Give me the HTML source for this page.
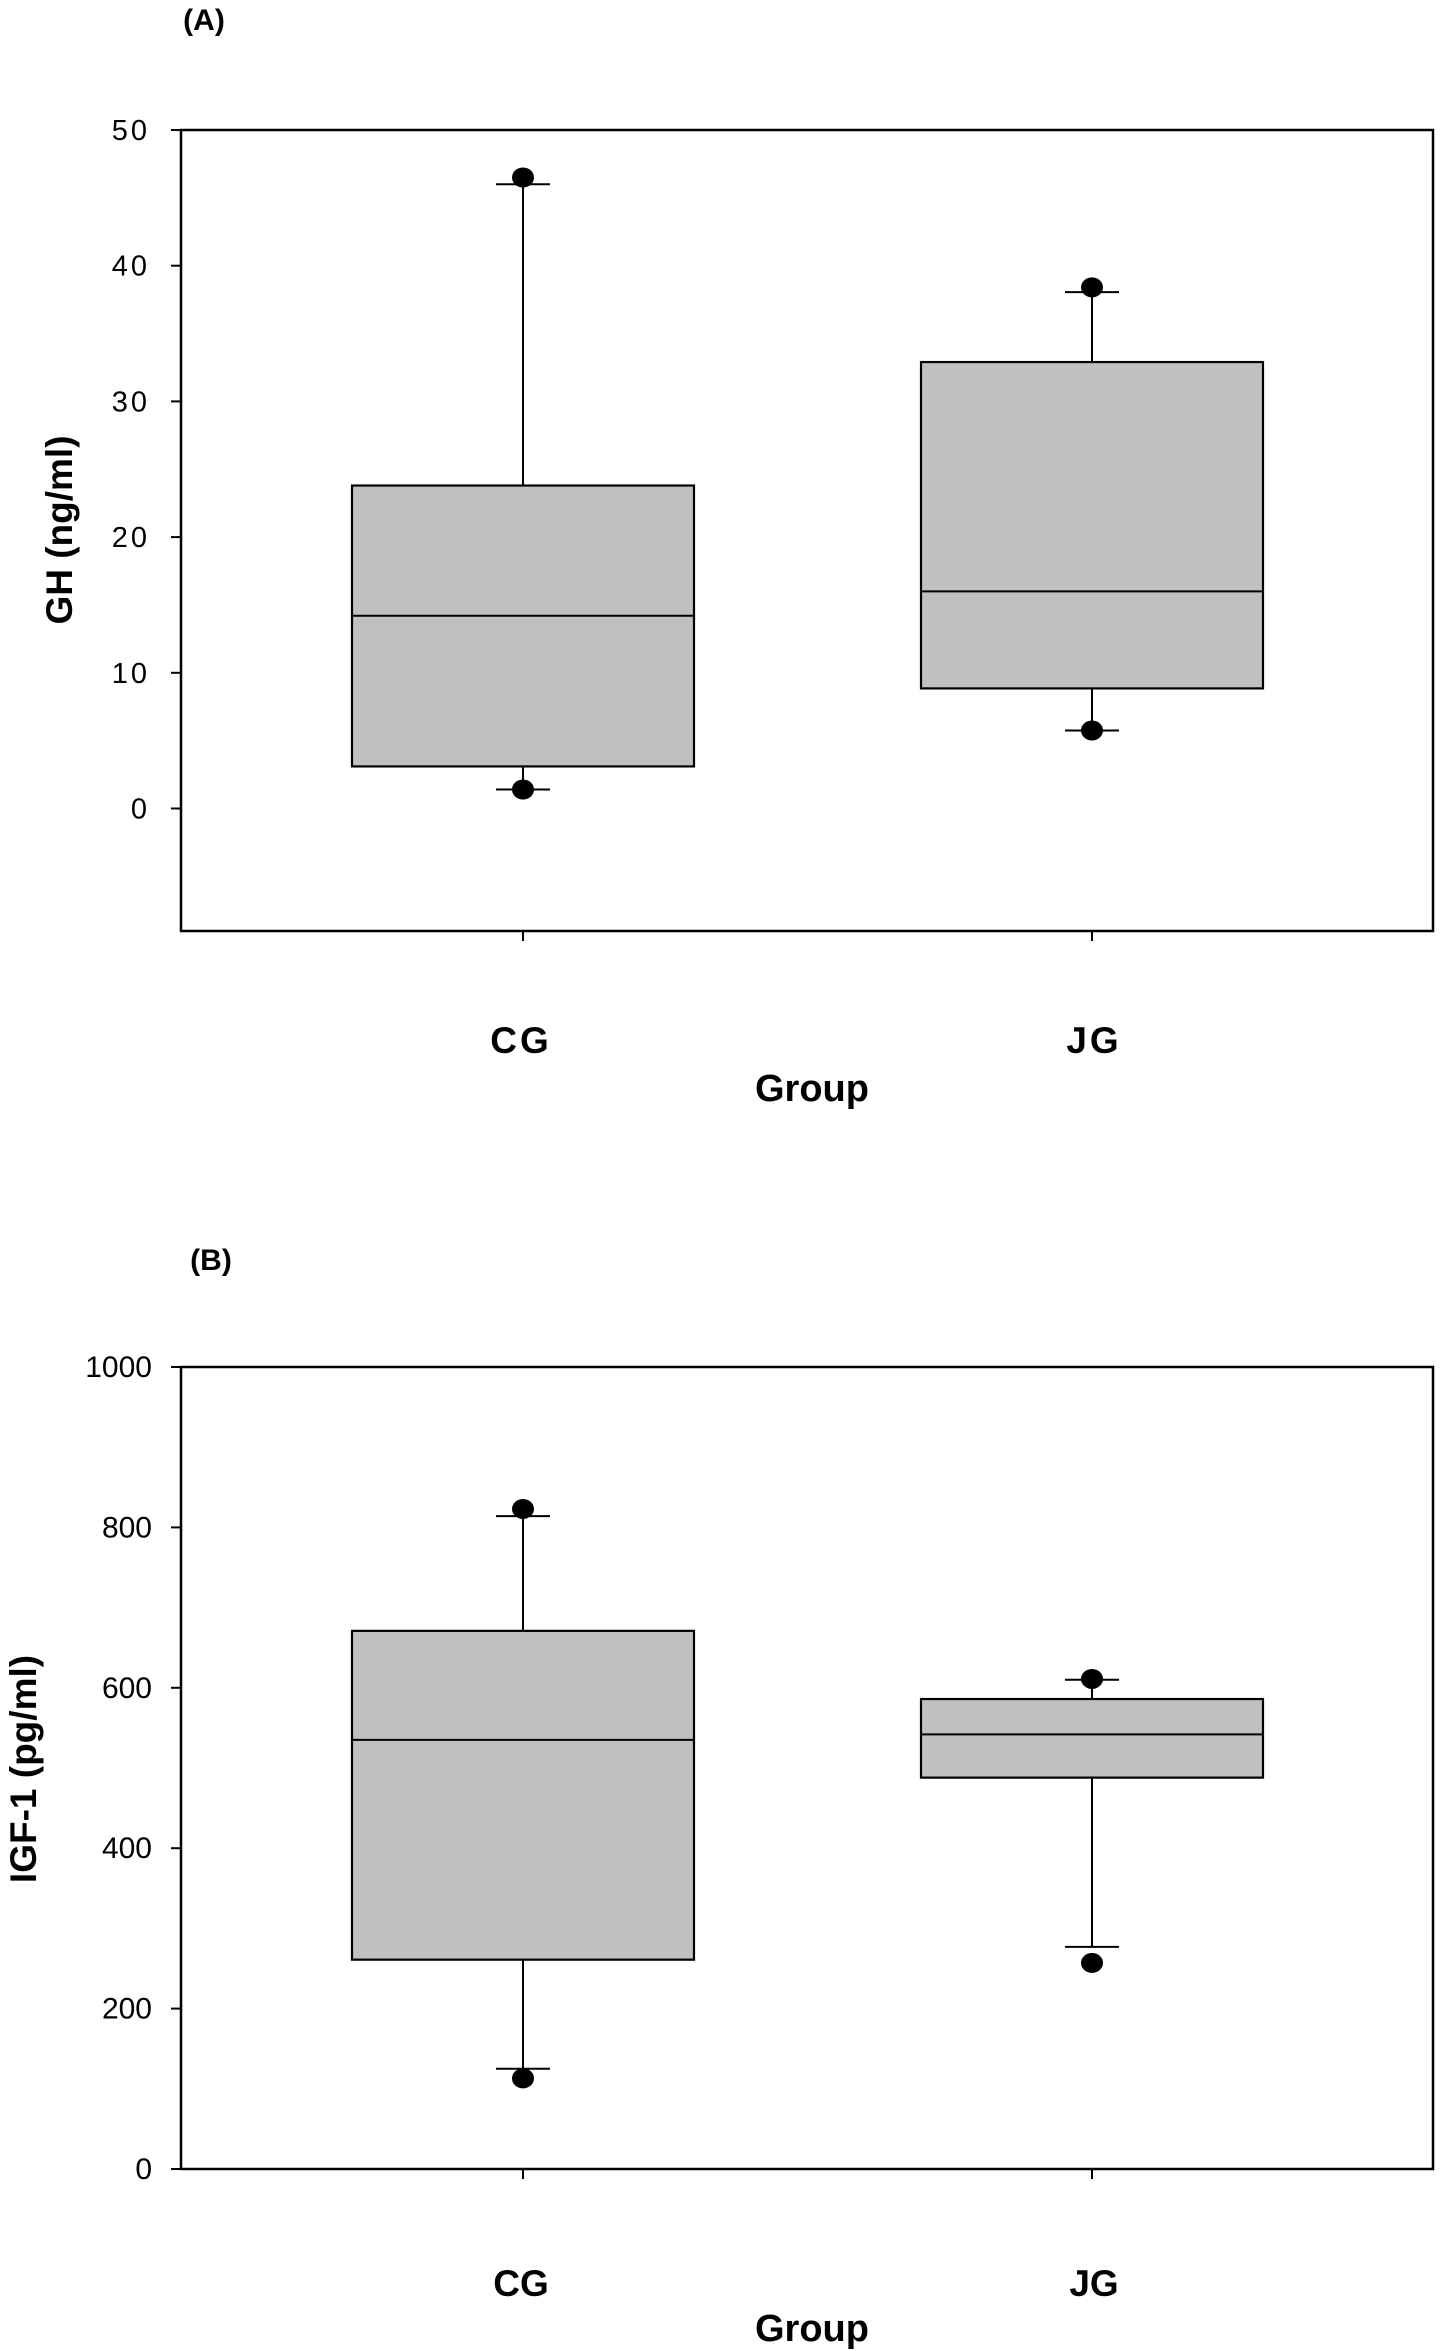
<!DOCTYPE html>
<html><head><meta charset="utf-8"><style>
body{margin:0;background:#fff;}
svg{display:block;font-family:"Liberation Sans",Arial,sans-serif;}
</style></head><body>
<svg id="fig" width="1441" height="2351" viewBox="0 0 1441 2351" xmlns="http://www.w3.org/2000/svg"></svg>
<script>
// Panel A data (GH ng/ml)
const categories = ["CG", "JG"];
const ghLowOut = [1.4, 5.75];
const ghLowWhisk = [1.4, 5.75];
const ghQ1 = [3.1, 8.85];
const ghMedian = [14.2, 16.0];
const ghQ3 = [23.8, 32.9];
const ghHighWhisk = [46.0, 38.05];
const ghHighOut = [46.5, 38.4];
const ghTicks = [0, 10, 20, 30, 40, 50];
// Panel B data (IGF-1 pg/ml)
const igfLowOut = [113, 257];
const igfLowWhisk = [125, 277];
const igfQ1 = [261, 488];
const igfMedian = [535, 542];
const igfQ3 = [671, 586];
const igfHighWhisk = [814, 610];
const igfHighOut = [823, 611];
const igfTicks = [0, 200, 400, 600, 800, 1000];

const NS = "http://www.w3.org/2000/svg";
const svg = document.getElementById("fig");
function mk(tag, attrs, parent, name) {
  const e = document.createElementNS(NS, tag);
  for (const k in attrs) e.setAttribute(k, attrs[k]);
  
  
  (parent || svg).appendChild(e);
  return e;
}

function panel(opt) {
  const g = mk("g", {}, svg, opt.name);
  const L = 181, R = 1433, T = opt.top, B = opt.bottom;
  const y = v => opt.y0px + (v - opt.vmin) * (opt.y1px - opt.y0px) / (opt.vmax - opt.vmin);
  const xc = [523, 1092];
  const halfBox = 171, cap = 27;
  mk("rect", {x: L, y: T, width: R - L, height: B - T, fill: "none", stroke: "#000", "stroke-width": 2.5}, g, "plot-frame");
  opt.ticks.forEach(t => {
    mk("line", {x1: L - 10, x2: L, y1: y(t), y2: y(t), stroke: "#000", "stroke-width": 2}, g, "y-tick");
    const tx = mk("text", {x: opt.tickX, y: y(t) + 10, "text-anchor": "end", "font-size": opt.tickFs, fill: "#000", "letter-spacing": opt.ls}, g, "y-tick-label");
    tx.textContent = t;
  });
  categories.forEach((c, i) => {
    const x = xc[i];
    mk("line", {x1: x, x2: x, y1: B, y2: B + 10, stroke: "#000", "stroke-width": 2}, g, "x-tick");
    mk("line", {x1: x, x2: x, y1: y(opt.hw[i]), y2: y(opt.q3[i]), stroke: "#000", "stroke-width": 2}, g, "upper-whisker-" + c);
    mk("line", {x1: x, x2: x, y1: y(opt.lw[i]), y2: y(opt.q1[i]), stroke: "#000", "stroke-width": 2}, g, "lower-whisker-" + c);
    mk("line", {x1: x - cap, x2: x + cap, y1: y(opt.hw[i]), y2: y(opt.hw[i]), stroke: "#000", "stroke-width": 2}, g, "upper-cap-" + c);
    mk("line", {x1: x - cap, x2: x + cap, y1: y(opt.lw[i]), y2: y(opt.lw[i]), stroke: "#000", "stroke-width": 2}, g, "lower-cap-" + c);
    const top = y(opt.q3[i]), bot = y(opt.q1[i]);
    mk("rect", {x: x - halfBox, y: top, width: 2 * halfBox, height: bot - top, fill: "#c0c0c0", stroke: "#000", "stroke-width": 2.2}, g, "box-" + c);
    mk("line", {x1: x - halfBox, x2: x + halfBox, y1: y(opt.med[i]), y2: y(opt.med[i]), stroke: "#000", "stroke-width": 2}, g, "median-" + c);
    mk("ellipse", {cx: x, cy: y(opt.ho[i]), rx: 11, ry: 10, fill: "#000"}, g, "outlier-high-" + c);
    mk("ellipse", {cx: x, cy: y(opt.lo[i]), rx: 11, ry: 10, fill: "#000"}, g, "outlier-low-" + c);
    const lab = mk("text", {x: x + (i ? 2 : -2), y: opt.catY, "text-anchor": "middle", "font-size": 37, "font-weight": "bold", "letter-spacing": opt.catLs}, g, "x-category-label");
    lab.textContent = c;
  });
  const xt = mk("text", {x: 812, y: opt.groupY, "text-anchor": "middle", "font-size": 38, "font-weight": "bold"}, g, "x-axis-title");
  xt.textContent = "Group";
  const yt = mk("text", {x: 0, y: 0, "text-anchor": "middle", "font-size": 37, "font-weight": "bold", transform: `translate(${opt.ylX},${opt.ylY}) rotate(-90)`}, g, "y-axis-title");
  yt.textContent = opt.ylabel;
  const pl = mk("text", {x: opt.plX, y: opt.plY, "font-size": 30, "font-weight": "bold", "text-anchor": "middle"}, g, "panel-label");
  pl.textContent = opt.plabel;
}

panel({name: "panel-a-gh", top: 130, bottom: 931, vmin: 0, vmax: 50, y0px: 808.5, y1px: 130,
  ticks: ghTicks, tickX: 150, tickFs: 29, ls: 3, catLs: 3,
  lo: ghLowOut, lw: ghLowWhisk, q1: ghQ1, med: ghMedian, q3: ghQ3, hw: ghHighWhisk, ho: ghHighOut,
  catY: 1053, groupY: 1101, ylabel: "GH (ng/ml)", ylX: 72, ylY: 530, plabel: "(A)", plX: 204, plY: 30});

panel({name: "panel-b-igf1", top: 1367, bottom: 2169, vmin: 0, vmax: 1000, y0px: 2169, y1px: 1367,
  ticks: igfTicks, tickX: 152, tickFs: 30, ls: 0, catLs: 0,
  lo: igfLowOut, lw: igfLowWhisk, q1: igfQ1, med: igfMedian, q3: igfQ3, hw: igfHighWhisk, ho: igfHighOut,
  catY: 2296, groupY: 2341, ylabel: "IGF-1 (pg/ml)", ylX: 36, ylY: 1769, plabel: "(B)", plX: 211, plY: 1270});
</script>
</body></html>
